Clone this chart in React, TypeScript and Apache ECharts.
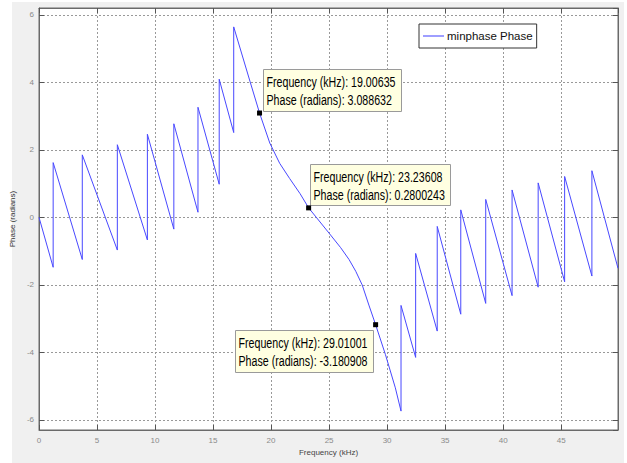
import React, { useEffect, useRef } from 'react';
import * as echarts from 'echarts';

const freq = [0, 1.22, 1.22, 3.73, 3.73, 6.75, 6.75, 9.34, 9.34, 11.62, 11.62, 13.7, 13.7, 15.53, 15.53, 16.78, 16.78, 18.18, 19.006, 19.89, 20.74, 21.6, 22.5, 23.236, 25.0, 26.0, 26.72, 27.3, 27.85, 28.43, 29.01, 29.86, 30.71, 31.2, 31.2, 32.46, 32.46, 34.32, 34.32, 36.35, 36.35, 38.5, 38.5, 40.77, 40.77, 43.02, 43.02, 45.3, 45.3, 47.65, 47.65, 49.9];
const phase = [0, -1.48, 1.62, -1.25, 1.85, -0.97, 2.15, -0.67, 2.46, -0.35, 2.77, 0.15, 3.26, 0.98, 4.09, 2.51, 5.64, 4.03, 3.089, 2.2, 1.6, 1.15, 0.7, 0.28, -0.47, -0.9, -1.25, -1.6, -2.0, -2.6, -3.18, -4.07, -5.05, -5.74, -2.61, -4.15, -1.07, -3.37, -0.27, -2.87, 0.22, -2.55, 0.53, -2.32, 0.81, -2.07, 1.02, -1.91, 1.21, -1.74, 1.38, -1.51];

const tipFreq = [19.00635, 23.23608, 29.01001];
const tipPhase = [3.088632, 0.2800243, -3.180908];

const seriesName = 'minphase Phase';
const xName = 'Frequency (kHz)';
const yName = 'Phase (radians)';

const narrow = '"Liberation Sans", Arial, sans-serif';

export default function App() {
  const ref = useRef<HTMLDivElement>(null);
  useEffect(() => {
    const chart = echarts.init(ref.current!, null, { renderer: 'svg' });
    const data = freq.map((f, i) => [f, phase[i]]);
    const xBase = { type: 'value', min: 0, max: 49.9, minInterval: 5, maxInterval: 5 };
    const yBase = { type: 'value', min: -6.3, max: 6.2, minInterval: 2, maxInterval: 2 };
    const tick = { show: true, inside: true, length: 5, lineStyle: { color: '#555' } };
    const line = { show: true, onZero: false, lineStyle: { color: '#6a6a6a', width: 1 } };
    const labelStyle = { color: '#8a8a8a', fontSize: 8, fontFamily: narrow, showMinLabel: true, showMaxLabel: false };
    const split = { show: true, lineStyle: { color: '#999999', type: [2, 2], width: 1 } };
    chart.setOption({
      animation: false,
      grid: { left: 34, right: 9, top: 8, bottom: 33, show: true, backgroundColor: '#fff', borderColor: '#6a6a6a', borderWidth: 1 },
      legend: {
        show: true,
        data: [{ name: seriesName, icon: 'rect' }],
        left: 419,
        top: 24,
        padding: [6, 4, 6, 4],
        itemWidth: 21,
        itemHeight: 1,
        itemStyle: { color: '#3c3cff' },
        backgroundColor: '#fff',
        borderColor: '#333',
        borderWidth: 1,
        borderRadius: 0,
        textStyle: { fontSize: 11.5, color: '#111', fontFamily: narrow, padding: [0, 0, 0, -2] },
      },
      xAxis: [
        {
          ...xBase,
          position: 'bottom',
          name: xName,
          nameLocation: 'middle',
          nameGap: 18,
          nameTextStyle: { fontSize: 8, color: '#444', fontFamily: narrow },
          axisLine: line,
          axisTick: tick,
          axisLabel: { ...labelStyle, margin: 6 },
          splitLine: split,
        },
        {
          ...xBase,
          position: 'top',
          axisLine: line,
          axisTick: tick,
          axisLabel: { show: false },
          splitLine: { show: false },
        },
      ],
      yAxis: [
        {
          ...yBase,
          position: 'left',
          name: yName,
          nameLocation: 'middle',
          nameGap: 12,
          nameTextStyle: { fontSize: 8, color: '#333', fontFamily: narrow },
          axisLine: line,
          axisTick: tick,
          axisLabel: { ...labelStyle, showMinLabel: false, margin: 5 },
          splitLine: split,
        },
        {
          ...yBase,
          position: 'right',
          axisLine: line,
          axisTick: tick,
          axisLabel: { show: false },
          splitLine: { show: false },
        },
      ],
      series: [
        {
          name: seriesName,
          type: 'line',
          xAxisIndex: 0,
          yAxisIndex: 0,
          data,
          symbol: 'none',
          showSymbol: false,
          lineStyle: { color: '#4848ff', width: 1 },
          itemStyle: { color: '#4848ff' },
          markPoint: {
            symbol: 'rect',
            symbolSize: 5,
            itemStyle: { color: '#000' },
            label: { show: false },
            data: tipFreq.map((f, i) => ({ coord: [f, tipPhase[i]] })),
          },
        },
      ],
    });

    const offsets = [
      { dx: 3, dy: -44, w: 138, h: 42, anchorRight: false },
      { dx: 1, dy: -44, w: 140, h: 41, anchorRight: false },
      { dx: -3, dy: 5, w: 138, h: 42, anchorRight: true },
    ];
    const groups = tipFreq.map((f, i) => {
      const p = chart.convertToPixel({ xAxisIndex: 0, yAxisIndex: 0 }, [f, tipPhase[i]]) as number[];
      const o = offsets[i];
      const left = o.anchorRight ? p[0] + o.dx - o.w : p[0] + o.dx;
      const top = p[1] + o.dy;
      return {
        type: 'group',
        x: Math.round(left) + 0.5,
        y: Math.round(top) + 0.5,
        z: 100,
        children: [
          { type: 'rect', shape: { x: 0, y: 0, width: o.w, height: o.h }, style: { fill: '#ffffe1', stroke: '#9a9a9a', lineWidth: 1 } },
          { type: 'text', x: 3, y: 12, scaleX: 0.71, style: { text: `Frequency (kHz): ${f}`, font: '15px "Liberation Sans", Arial, sans-serif', fill: '#000', verticalAlign: 'middle' } },
          { type: 'text', x: 3, y: 30, scaleX: 0.71, style: { text: `Phase (radians): ${tipPhase[i]}`, font: '15px "Liberation Sans", Arial, sans-serif', fill: '#000', verticalAlign: 'middle' } },
        ],
      };
    });
    chart.setOption({ graphic: groups });

    return () => chart.dispose();
  }, []);

  return (
    <div style={{ position: 'absolute', left: 0, top: 0, width: 627, height: 463, background: '#fff' }}>
      <div style={{ position: 'absolute', left: 12, top: 2, width: 612, height: 461, background: '#f0f0f0' }} />
      <div ref={ref} style={{ position: 'absolute', left: 0, top: 0, width: 627, height: 463 }} />
    </div>
  );
}
